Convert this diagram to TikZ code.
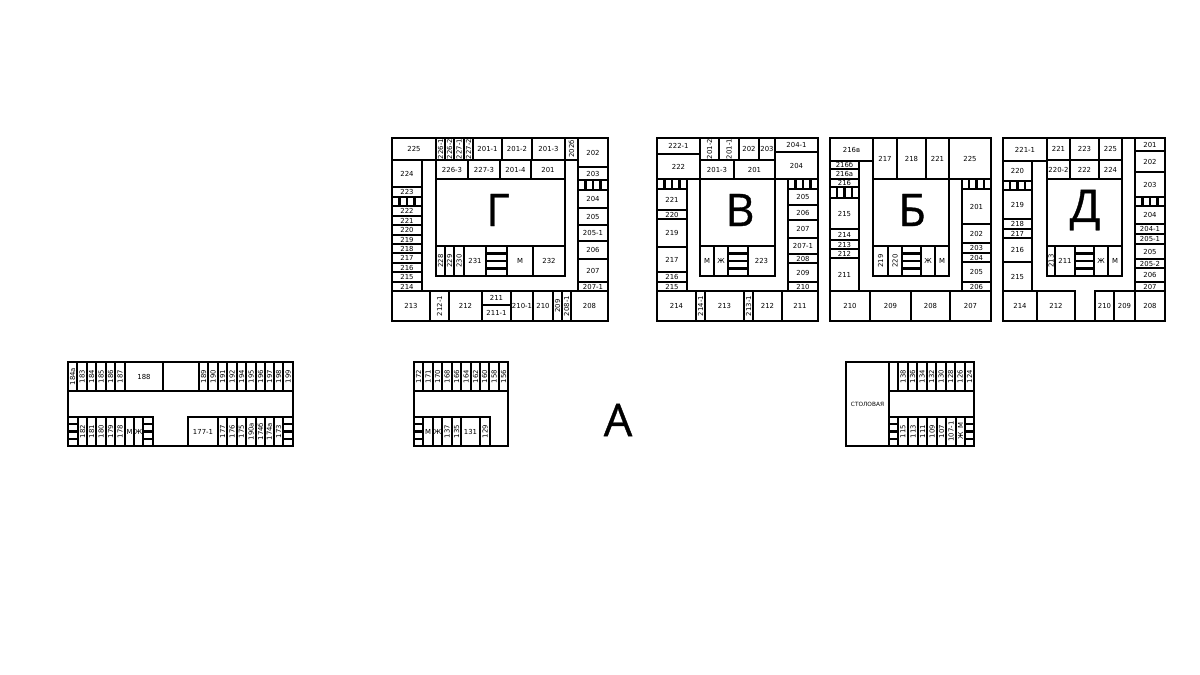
\documentclass[tikz,border=0pt]{standalone}
\usepackage{fontspec}
\setmainfont{DejaVu Sans}
\newfontfamily\bigfont[FakeBold=0.8]{Open Sans}
\newcounter{rc}
\tikzset{
  wall/.style={draw=black,line width=2.2pt,line join=miter},
  lbl/.style={inner sep=0pt,font=\fontsize{6.9}{7}\selectfont,text=black},
  vlbl/.style={lbl,rotate=90},
  big/.style={inner sep=0pt,font=\bigfont\fontsize{45}{48}\selectfont,text=black},
  small/.style={inner sep=0pt,font=\fontsize{5.8}{6}\selectfont,text=black}
}
% horizontal label room
\newcommand{\Rm}[5]{\draw[wall] (#1,#2) rectangle (#3,#4);\stepcounter{rc}\node[lbl] (r\arabic{rc}) at ({(#1+#3)/2},{(#2+#4)/2}) {#5};}
% rotated label room
\newcommand{\Vm}[5]{\draw[wall] (#1,#2) rectangle (#3,#4);\stepcounter{rc}\node[vlbl] (r\arabic{rc}) at ({(#1+#3)/2},{(#2+#4)/2}) {#5};}
% empty box
\newcommand{\Bx}[4]{\draw[wall] (#1,#2) rectangle (#3,#4);}
% stairs, vertical and horizontal treads
\newcommand{\SV}[4]{\draw[wall] (#1,#2) rectangle (#3,#4);
  \foreach \k in {1,2,3}{\draw[wall] ({#1+(#3-#1)*\k/4},#2) -- ({#1+(#3-#1)*\k/4},#4);}}
\newcommand{\SH}[4]{\draw[wall] (#1,#2) rectangle (#3,#4);
  \foreach \k in {1,2,3}{\draw[wall] (#1,{#2+(#4-#2)*\k/4}) -- (#3,{#2+(#4-#2)*\k/4});}}
\begin{document}
\begin{tikzpicture}[x=1pt,y=-1pt]
\useasboundingbox (0,0) rectangle (1200,675);
% ---------- Г ----------
\Bx{392}{138}{608}{321}
\Rm{392}{138}{436}{160}{225}
\Vm{436}{138}{445}{160}{226-1}\Vm{445}{138}{454}{160}{226-2}\Vm{454}{138}{464}{160}{227-1}\Vm{464}{138}{473}{160}{227-2}
\Rm{473}{138}{502}{160}{201-1}\Rm{502}{138}{532}{160}{201-2}\Rm{532}{138}{565}{160}{201-3}
\Vm{565}{138}{578}{160}{202б}
\Rm{578}{138}{608}{167}{202}\Rm{578}{167}{608}{180}{203}\SV{578}{180}{608}{190}
\Rm{578}{190}{608}{208}{204}\Rm{578}{208}{608}{225}{205}\Rm{578}{225}{608}{241}{205-1}
\Rm{578}{241}{608}{259}{206}\Rm{578}{259}{608}{282}{207}\Rm{578}{282}{608}{291}{207-1}
\Rm{392}{291}{430}{321}{213}\Vm{430}{291}{449}{321}{212-1}\Rm{449}{291}{482}{321}{212}
\Rm{482}{291}{511}{305}{211}\Rm{482}{305}{511}{321}{211-1}\Rm{511}{291}{533}{321}{210-1}
\Rm{533}{291}{553}{321}{210}\Vm{553}{291}{562}{321}{209}\Vm{562}{291}{571}{321}{208-1}\Rm{571}{291}{608}{321}{208}
\Rm{392}{160}{422}{187}{224}\Rm{392}{187}{422}{197}{223}\SV{392}{197}{422}{206}
\Rm{392}{206}{422}{216}{222}\Rm{392}{216}{422}{225}{221}\Rm{392}{225}{422}{235}{220}
\Rm{392}{235}{422}{244}{219}\Rm{392}{244}{422}{253}{218}\Rm{392}{253}{422}{263}{217}
\Rm{392}{263}{422}{272}{216}\Rm{392}{272}{422}{282}{215}\Rm{392}{282}{422}{291}{214}
\Rm{436}{160}{468}{179}{226-3}\Rm{468}{160}{500}{179}{227-3}\Rm{500}{160}{531}{179}{201-4}\Rm{531}{160}{565}{179}{201}
\Bx{436}{179}{565}{246}
\Vm{436}{246}{445}{276}{228}\Vm{445}{246}{454}{276}{229}\Vm{454}{246}{464}{276}{230}
\Rm{464}{246}{486}{276}{231}\SH{486}{246}{507}{276}\Rm{507}{246}{533}{276}{М}\Rm{533}{246}{565}{276}{232}
\node[big] (lG) at (498,210) {Г};
% ---------- В ----------
\Bx{657}{138}{818}{321}
\Rm{657}{138}{700}{154}{222-1}\Rm{657}{154}{700}{179}{222}
\Vm{700}{138}{719}{160}{201-2}\Vm{719}{138}{739}{160}{201-1}\Rm{739}{138}{759}{160}{202}\Rm{759}{138}{775}{160}{203}
\Rm{775}{138}{818}{152}{204-1}\Rm{775}{152}{818}{179}{204}
\Rm{700}{160}{734}{179}{201-3}\Rm{734}{160}{775}{179}{201}
\SV{657}{179}{687}{189}\Rm{657}{189}{687}{210}{221}\Rm{657}{210}{687}{219}{220}\Rm{657}{219}{687}{247}{219}
\Rm{657}{247}{687}{272}{217}\Rm{657}{272}{687}{282}{216}\Rm{657}{282}{687}{291}{215}
\Bx{700}{179}{775}{246}
\Rm{700}{246}{714}{276}{М}\Rm{714}{246}{728}{276}{Ж}\SH{728}{246}{748}{276}\Rm{748}{246}{775}{276}{223}
\SV{788}{179}{818}{189}\Rm{788}{189}{818}{205}{205}\Rm{788}{205}{818}{220}{206}\Rm{788}{220}{818}{238}{207}
\Rm{788}{238}{818}{254}{207-1}\Rm{788}{254}{818}{263}{208}\Rm{788}{263}{818}{282}{209}\Rm{788}{282}{818}{291}{210}
\Rm{657}{291}{696}{321}{214}\Vm{696}{291}{705}{321}{214-1}\Rm{705}{291}{744}{321}{213}\Vm{744}{291}{753}{321}{213-1}
\Rm{753}{291}{782}{321}{212}\Rm{782}{291}{818}{321}{211}
\node[big] (lV) at (740,210) {В};
% ---------- Б ----------
\Bx{830}{138}{991}{321}
\Rm{830}{138}{873}{161}{216в}\Rm{830}{161}{859}{169}{216б}\Rm{830}{169}{859}{179}{216а}\Rm{830}{179}{859}{187}{216}
\SV{830}{187}{859}{198}\Rm{830}{198}{859}{229}{215}\Rm{830}{229}{859}{240}{214}\Rm{830}{240}{859}{249}{213}
\Rm{830}{249}{859}{258}{212}\Rm{830}{258}{859}{291}{211}
\Rm{873}{138}{897}{179}{217}\Rm{897}{138}{926}{179}{218}\Rm{926}{138}{949}{179}{221}\Rm{949}{138}{991}{179}{225}
\Bx{873}{179}{949}{246}
\Vm{873}{246}{888}{276}{219}\Vm{888}{246}{902}{276}{220}\SH{902}{246}{921}{276}\Rm{921}{246}{935}{276}{Ж}\Rm{935}{246}{949}{276}{М}
\SV{962}{179}{991}{189}\Rm{962}{189}{991}{224}{201}\Rm{962}{224}{991}{243}{202}\Rm{962}{243}{991}{253}{203}
\Rm{962}{253}{991}{262}{204}\Rm{962}{262}{991}{282}{205}\Rm{962}{282}{991}{291}{206}
\Rm{830}{291}{870}{321}{210}\Rm{870}{291}{911}{321}{209}\Rm{911}{291}{950}{321}{208}\Rm{950}{291}{991}{321}{207}
\node[big] (lB) at (912,210) {Б};
% ---------- Д ----------
\Bx{1003}{138}{1165}{321}
\Rm{1003}{138}{1047}{161}{221-1}\Rm{1003}{161}{1032}{181}{220}\SV{1003}{181}{1032}{190}\Rm{1003}{190}{1032}{219}{219}
\Rm{1003}{219}{1032}{229}{218}\Rm{1003}{229}{1032}{238}{217}\Rm{1003}{238}{1032}{262}{216}\Rm{1003}{262}{1032}{291}{215}
\Rm{1047}{138}{1070}{160}{221}\Rm{1070}{138}{1099}{160}{223}\Rm{1099}{138}{1122}{160}{225}
\Rm{1047}{160}{1070}{179}{220-2}\Rm{1070}{160}{1099}{179}{222}\Rm{1099}{160}{1122}{179}{224}
\Bx{1047}{179}{1122}{246}
\Vm{1047}{246}{1055}{276}{213}\Rm{1055}{246}{1075}{276}{211}\SH{1075}{246}{1094}{276}\Rm{1094}{246}{1108}{276}{Ж}\Rm{1108}{246}{1122}{276}{М}
\Rm{1135}{138}{1165}{151}{201}\Rm{1135}{151}{1165}{172}{202}\Rm{1135}{172}{1165}{197}{203}\SV{1135}{197}{1165}{206}
\Rm{1135}{206}{1165}{224}{204}\Rm{1135}{224}{1165}{234}{204-1}\Rm{1135}{234}{1165}{244}{205-1}\Rm{1135}{244}{1165}{259}{205}
\Rm{1135}{259}{1165}{268}{205-2}\Rm{1135}{268}{1165}{282}{206}\Rm{1135}{282}{1165}{291}{207}
\Rm{1003}{291}{1037}{321}{214}\Rm{1037}{291}{1075}{321}{212}\Rm{1095}{291}{1114}{321}{210}\Rm{1114}{291}{1135}{321}{209}\Rm{1135}{291}{1165}{321}{208}
\node[big] (lD) at (1085,210) {Д};
% ---------- A left ----------
\Bx{68}{362}{293}{446}
\Vm{68}{362}{77}{391}{184а}\Vm{77}{362}{87}{391}{183}\Vm{87}{362}{96}{391}{184}\Vm{96}{362}{106}{391}{185}\Vm{106}{362}{115}{391}{186}\Vm{115}{362}{125}{391}{187}
\Rm{125}{362}{163}{391}{188}\Bx{163}{362}{199}{391}
\Vm{199}{362}{208}{391}{189}\Vm{208}{362}{218}{391}{190}\Vm{218}{362}{227}{391}{191}\Vm{227}{362}{237}{391}{192}\Vm{237}{362}{246}{391}{194}
\Vm{246}{362}{256}{391}{195}\Vm{256}{362}{265}{391}{196}\Vm{265}{362}{274}{391}{197}\Vm{274}{362}{283}{391}{198}\Vm{283}{362}{293}{391}{199}
\SH{68}{417}{78}{446}\Vm{78}{417}{87}{446}{182}\Vm{87}{417}{96}{446}{181}\Vm{96}{417}{106}{446}{180}\Vm{106}{417}{115}{446}{179}\Vm{115}{417}{125}{446}{178}
\Rm{125}{417}{134}{446}{М}\Rm{134}{417}{143}{446}{Ж}\SH{143}{417}{153}{446}
\Rm{188}{417}{218}{446}{177-1}\Vm{218}{417}{227}{446}{177}\Vm{227}{417}{237}{446}{176}\Vm{237}{417}{246}{446}{175}\Vm{246}{417}{256}{446}{190а}
\Vm{256}{417}{265}{446}{174б}\Vm{265}{417}{274}{446}{174а}\Vm{274}{417}{283}{446}{173}\SH{283}{417}{293}{446}
% ---------- A middle ----------
\Bx{414}{362}{508}{446}
\Vm{414}{362}{423}{391}{172}\Vm{423}{362}{433}{391}{171}\Vm{433}{362}{442}{391}{170}\Vm{442}{362}{452}{391}{168}\Vm{452}{362}{461}{391}{166}
\Vm{461}{362}{471}{391}{164}\Vm{471}{362}{480}{391}{162}\Vm{480}{362}{489}{391}{160}\Vm{489}{362}{499}{391}{158}\Vm{499}{362}{508}{391}{156}
\SH{414}{417}{423}{446}\Rm{423}{417}{433}{446}{М}\Rm{433}{417}{442}{446}{Ж}\Vm{442}{417}{452}{446}{137}\Vm{452}{417}{461}{446}{135}
\Rm{461}{417}{480}{446}{131}\Vm{480}{417}{490}{446}{129}
% ---------- A right ----------
\Bx{846}{362}{974}{446}
\Bx{846}{362}{889}{446}\stepcounter{rc}\node[small] (stol) at (867.5,404) {СТОЛОВАЯ};
\Bx{889}{362}{898}{391}
\Vm{898}{362}{908}{391}{138}\Vm{908}{362}{917}{391}{136}\Vm{917}{362}{927}{391}{134}\Vm{927}{362}{936}{391}{132}
\Vm{936}{362}{946}{391}{130}\Vm{946}{362}{955}{391}{128}\Vm{955}{362}{965}{391}{126}\Vm{965}{362}{974}{391}{124}
\SH{889}{417}{898}{446}\Vm{898}{417}{908}{446}{115}\Vm{908}{417}{918}{446}{113}\Vm{918}{417}{927}{446}{111}\Vm{927}{417}{937}{446}{109}
\Vm{937}{417}{946}{446}{107}\Vm{946}{417}{956}{446}{107-1}
\Bx{956}{417}{965}{446}\node[vlbl] (m3) at (960.5,426) {М};\node[vlbl] (zh3) at (960.5,436) {Ж};
\SH{965}{417}{974}{446}
\node[big] (lA) at (618,420) {А};
\end{tikzpicture}
\end{document}
